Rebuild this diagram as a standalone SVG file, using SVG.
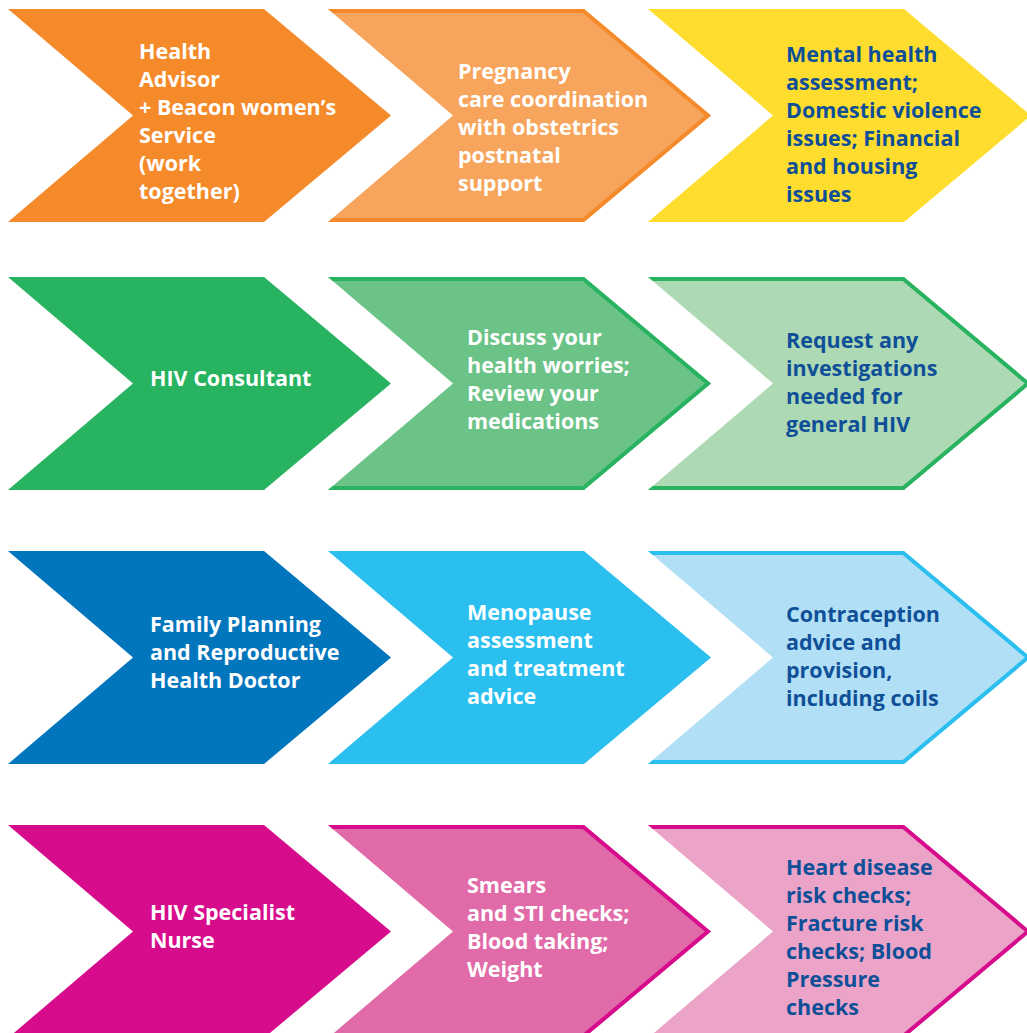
<svg xmlns="http://www.w3.org/2000/svg" xmlns:xlink="http://www.w3.org/1999/xlink" width="1027" height="1033" viewBox="0 0 1027 1033">
<style>
.t{font-family:"Open Sans","Noto Sans","Liberation Sans",sans-serif;font-weight:700;font-size:21.5px}
.w{fill:#ffffff}
.d{fill:#0e4f98}
.edge{fill:none;stroke-width:8;stroke-linejoin:miter}
</style>
<defs>
<polygon id="chev" points="0,0 256,0 383,106.5 256,213 0,213 125,106.5"/>
<path id="rim" d="M-20,0 L256,0 L383,106.5 L256,213 L-20,213"/>
<clipPath id="cc" clipPathUnits="userSpaceOnUse"><use xlink:href="#chev"/></clipPath>
</defs>
<rect width="1027" height="1033" fill="#ffffff"/>

<g id="health-advisor" transform="translate(8,9)">
<use xlink:href="#chev" fill="#f58a2b"/>
<text class="t w"><tspan x="131" y="50">Health</tspan><tspan x="131" y="78">Advisor</tspan><tspan x="131" y="106">+ Beacon women’s</tspan><tspan x="131" y="134">Service</tspan><tspan x="131" y="162">(work</tspan><tspan x="131" y="190">together)</tspan></text>
</g>
<g id="pregnancy-care" transform="translate(328,9)">
<use xlink:href="#chev" fill="#f7a55c"/>
<use xlink:href="#rim" class="edge" stroke="#f58a2b" clip-path="url(#cc)"/>
<text class="t w"><tspan x="130" y="70">Pregnancy</tspan><tspan x="130" y="98">care coordination</tspan><tspan x="130" y="126">with obstetrics</tspan><tspan x="130" y="154">postnatal</tspan><tspan x="130" y="182">support</tspan></text>
</g>
<g id="mental-health" transform="translate(648,9)">
<use xlink:href="#chev" fill="#fedd2e"/>
<text class="t d"><tspan x="138" y="53">Mental health</tspan><tspan x="138" y="81">assessment;</tspan><tspan x="138" y="109">Domestic violence</tspan><tspan x="138" y="137">issues; Financial</tspan><tspan x="138" y="165">and housing</tspan><tspan x="138" y="193">issues</tspan></text>
</g>

<g id="hiv-consultant" transform="translate(8,277)">
<use xlink:href="#chev" fill="#27b35f"/>
<text class="t w"><tspan x="142" y="109">HIV Consultant</tspan></text>
</g>
<g id="discuss-worries" transform="translate(328,277)">
<use xlink:href="#chev" fill="#6bc387"/>
<use xlink:href="#rim" class="edge" stroke="#27b35f" clip-path="url(#cc)"/>
<text class="t w"><tspan x="139" y="68">Discuss your</tspan><tspan x="139" y="96">health worries;</tspan><tspan x="139" y="124">Review your</tspan><tspan x="139" y="152">medications</tspan></text>
</g>
<g id="request-investigations" transform="translate(648,277)">
<use xlink:href="#chev" fill="#aed9b5"/>
<use xlink:href="#rim" class="edge" stroke="#27b35f" clip-path="url(#cc)"/>
<text class="t d"><tspan x="138" y="71">Request any</tspan><tspan x="138" y="99">investigations</tspan><tspan x="138" y="127">needed for</tspan><tspan x="138" y="155">general HIV</tspan></text>
</g>

<g id="family-planning" transform="translate(8,551)">
<use xlink:href="#chev" fill="#0276bd"/>
<text class="t w"><tspan x="142" y="81">Family Planning</tspan><tspan x="142" y="109">and Reproductive</tspan><tspan x="142" y="137">Health Doctor</tspan></text>
</g>
<g id="menopause" transform="translate(328,551)">
<use xlink:href="#chev" fill="#2abfef"/>
<text class="t w"><tspan x="139" y="69">Menopause</tspan><tspan x="139" y="97">assessment</tspan><tspan x="139" y="125">and treatment</tspan><tspan x="139" y="153">advice</tspan></text>
</g>
<g id="contraception" transform="translate(648,551)">
<use xlink:href="#chev" fill="#b1dff5"/>
<use xlink:href="#rim" class="edge" stroke="#2abfef" clip-path="url(#cc)"/>
<text class="t d"><tspan x="138" y="71">Contraception</tspan><tspan x="138" y="99">advice and</tspan><tspan x="138" y="127">provision,</tspan><tspan x="138" y="155">including coils</tspan></text>
</g>

<g id="hiv-specialist-nurse" transform="translate(8,825)">
<use xlink:href="#chev" fill="#d70c8c"/>
<text class="t w"><tspan x="142" y="95">HIV Specialist</tspan><tspan x="142" y="123">Nurse</tspan></text>
</g>
<g id="smears" transform="translate(328,825)">
<use xlink:href="#chev" fill="#e06ba8"/>
<use xlink:href="#rim" class="edge" stroke="#d70c8c" clip-path="url(#cc)"/>
<text class="t w"><tspan x="139" y="68">Smears</tspan><tspan x="139" y="96">and STI checks;</tspan><tspan x="139" y="124">Blood taking;</tspan><tspan x="139" y="152">Weight</tspan></text>
</g>
<g id="heart-checks" transform="translate(648,825)">
<use xlink:href="#chev" fill="#eba4c8"/>
<use xlink:href="#rim" class="edge" stroke="#d70c8c" clip-path="url(#cc)"/>
<text class="t d"><tspan x="138" y="50">Heart disease</tspan><tspan x="138" y="78">risk checks;</tspan><tspan x="138" y="106">Fracture risk</tspan><tspan x="138" y="134">checks; Blood</tspan><tspan x="138" y="162">Pressure</tspan><tspan x="138" y="190">checks</tspan></text>
</g>
<g id="connectors"/>
</svg>
